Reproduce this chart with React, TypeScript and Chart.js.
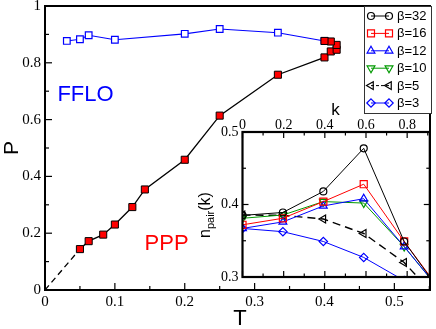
import React, { useEffect, useRef } from 'react';
import { Chart, registerables } from 'chart.js';
Chart.register(...registerables);

// ---------- main plot data ----------
const tExtrap = [0, 0.05];
const pExtrap = [0, 0.144];
const tFFLO = [0.03125, 0.05, 0.0625, 0.1, 0.2, 0.25, 0.3333, 0.4];
const pFFLO = [0.877, 0.883, 0.897, 0.881, 0.902, 0.919, 0.906, 0.877];
const tPPP = [0.05, 0.0625, 0.0833, 0.1, 0.125, 0.1429, 0.2, 0.25, 0.3333, 0.4, 0.409, 0.4174, 0.4174, 0.409, 0.4];
const pPPP = [0.144, 0.172, 0.195, 0.2305, 0.292, 0.354, 0.4586, 0.614, 0.758, 0.819, 0.84, 0.846, 0.863, 0.875, 0.877];
const tMajor = [0, 0.1, 0.2, 0.3, 0.4, 0.5];
const tMinor = [0.05, 0.15, 0.25, 0.35, 0.45, 0.55];
const pMajor = [0, 0.2, 0.4, 0.6, 0.8, 1];
const pMinor = [0.1, 0.3, 0.5, 0.7, 0.9];

// ---------- inset data ----------
const kVals = [0, 0.1963, 0.3927, 0.589, 0.7854, 0.9817];
const n32 = [0.385, 0.389, 0.418, 0.4775, 0.349, 0.272];
const n16 = [0.372, 0.381, 0.404, 0.428, 0.349, 0.274];
const n12 = [0.367, 0.376, 0.398, 0.408, 0.342, 0.274];
const n10 = [0.381, 0.3855, 0.404, 0.402, 0.342, 0.274];
const n5 = [0.3855, 0.385, 0.38, 0.36, 0.32, 0.26];
const n3 = [0.367, 0.3625, 0.349, 0.327, 0.295, 0.25];
const kMajor = [0, 0.2, 0.4, 0.6, 0.8];
const kMinor = [0.1, 0.3, 0.5, 0.7, 0.9];
const nMajor = [0.3, 0.4, 0.5];
const nMinor = [0.35, 0.45];

const betaLabels = ['β=32', 'β=16', 'β=12', 'β=10', 'β=5', 'β=3'];
const betaColors = ['#000000', '#ff0000', '#0000ff', '#009900', '#000000', '#0000ff'];
const betaMarkers = ['circle', 'rect', 'triangle', 'triangleDown', 'triangleLeft', 'diamond'];

const SERIF = "'Liberation Serif', 'Times New Roman', serif";
const SANS = "'Liberation Sans', Arial, sans-serif";

const zip = (xs: number[], ys: number[]) => xs.map((x, i) => ({ x, y: ys[i] }));

function drawMarker(ctx: CanvasRenderingContext2D, kind: string, x: number, y: number, color: string) {
  ctx.save();
  ctx.strokeStyle = color;
  ctx.lineWidth = 1.2;
  ctx.beginPath();
  if (kind === 'circle') {
    ctx.arc(x, y, 3.5, 0, Math.PI * 2);
  } else if (kind === 'rect') {
    ctx.rect(x - 3.5, y - 3.5, 7, 7);
  } else if (kind === 'diamond') {
    const r = 4.2;
    ctx.moveTo(x, y - r); ctx.lineTo(x + r, y); ctx.lineTo(x, y + r); ctx.lineTo(x - r, y); ctx.closePath();
  } else {
    const r = 4.5;
    let rot = 0;
    if (kind === 'triangleDown') rot = Math.PI;
    if (kind === 'triangleLeft') rot = -Math.PI / 2;
    for (let i = 0; i < 3; i++) {
      const a = rot + (i * 2 * Math.PI) / 3;
      const px = x + Math.sin(a) * r;
      const py = y - Math.cos(a) * r;
      if (i === 0) ctx.moveTo(px, py); else ctx.lineTo(px, py);
    }
    ctx.closePath();
  }
  ctx.stroke();
  ctx.restore();
}

function tick(ctx: CanvasRenderingContext2D, x1: number, y1: number, x2: number, y2: number) {
  ctx.beginPath();
  ctx.moveTo(x1, y1);
  ctx.lineTo(x2, y2);
  ctx.stroke();
}

const mainPlugin = {
  id: 'mainDeco',
  afterDraw(chart: any) {
    const { ctx, chartArea: a } = chart;
    const xs = chart.scales.x;
    const ys = chart.scales.y;
    ctx.save();
    ctx.strokeStyle = '#000';
    ctx.lineWidth = 1.2;
    pMajor.forEach((v) => { const py = ys.getPixelForValue(v); tick(ctx, a.left, py, a.left + 7, py); });
    pMinor.forEach((v) => { const py = ys.getPixelForValue(v); tick(ctx, a.left, py, a.left + 4, py); });
    tMajor.forEach((v) => { const px = xs.getPixelForValue(v); tick(ctx, px, a.bottom, px, a.bottom - 7); });
    tMinor.forEach((v) => { const px = xs.getPixelForValue(v); tick(ctx, px, a.bottom, px, a.bottom - 4); });
    ctx.lineWidth = 2;
    ctx.strokeRect(a.left, a.top, a.right - a.left, a.bottom - a.top);

    // region labels
    ctx.textAlign = 'center';
    ctx.textBaseline = 'middle';
    ctx.font = `22px ${SANS}`;
    ctx.fillStyle = '#0000ff';
    ctx.fillText('FFLO', xs.getPixelForValue(0.058), ys.getPixelForValue(0.688));
    ctx.fillStyle = '#ff0000';
    ctx.fillText('PPP', xs.getPixelForValue(0.174), ys.getPixelForValue(0.161));

    // axis titles
    ctx.fillStyle = '#000';
    ctx.font = `22px ${SANS}`;
    ctx.textBaseline = 'alphabetic';
    ctx.fillText('T', 240, 325);
    ctx.save();
    ctx.translate(18, 148);
    ctx.rotate(-Math.PI / 2);
    ctx.font = `21px ${SANS}`;
    ctx.fillText('P', 0, 0);
    ctx.restore();

    // legend
    const bx = 364, by = 6, bw = 67, bh = 107;
    ctx.fillStyle = '#fff';
    ctx.fillRect(bx, by, bw, bh);
    ctx.strokeStyle = '#333';
    ctx.lineWidth = 1;
    ctx.strokeRect(bx + 0.5, by + 0.5, bw, bh);
    ctx.font = `13px ${SANS}`;
    ctx.textAlign = 'left';
    ctx.textBaseline = 'middle';
    betaLabels.forEach((lab, i) => {
      const cy = by + 10 + i * 17.4;
      const col = betaColors[i];
      ctx.strokeStyle = col;
      ctx.lineWidth = 1;
      ctx.setLineDash(i === 4 ? [3, 2] : []);
      tick(ctx, bx + 7, cy, bx + 25, cy);
      ctx.setLineDash([]);
      drawMarker(ctx, betaMarkers[i], bx + 7, cy, col);
      drawMarker(ctx, betaMarkers[i], bx + 25, cy, col);
      ctx.fillStyle = '#000';
      ctx.fillText(lab, bx + 33, cy + 0.5);
    });
    ctx.restore();
  },
};

const insetPlugin = {
  id: 'insetDeco',
  beforeDraw(chart: any) {
    const { ctx, chartArea: a } = chart;
    ctx.save();
    ctx.fillStyle = '#fff';
    ctx.fillRect(a.left, a.top, a.right - a.left, a.bottom - a.top);
    ctx.restore();
  },
  afterDraw(chart: any) {
    const { ctx, chartArea: a } = chart;
    const xs = chart.scales.x;
    const ys = chart.scales.y;
    ctx.save();
    ctx.strokeStyle = '#000';
    ctx.lineWidth = 1.2;
    kMajor.forEach((v) => {
      const px = xs.getPixelForValue(v);
      tick(ctx, px, a.top, px, a.top + 6);
      tick(ctx, px, a.bottom, px, a.bottom - 6);
    });
    kMinor.forEach((v) => {
      const px = xs.getPixelForValue(v);
      if (px < a.right - 1) {
        tick(ctx, px, a.top, px, a.top + 3.5);
        tick(ctx, px, a.bottom, px, a.bottom - 3.5);
      }
    });
    nMajor.forEach((v) => {
      const py = ys.getPixelForValue(v);
      tick(ctx, a.left, py, a.left + 6, py);
      tick(ctx, a.right, py, a.right - 6, py);
    });
    nMinor.forEach((v) => {
      const py = ys.getPixelForValue(v);
      tick(ctx, a.left, py, a.left + 3.5, py);
      tick(ctx, a.right, py, a.right - 3.5, py);
    });
    ctx.lineWidth = 2.2;
    ctx.strokeRect(a.left, a.top, a.right - a.left, a.bottom - a.top);

    // k label
    ctx.fillStyle = '#000';
    ctx.textAlign = 'center';
    ctx.textBaseline = 'alphabetic';
    ctx.font = `17px ${SANS}`;
    ctx.fillText('k', 335.5 - 190, 115 - 95);

    // n_pair(k) label
    ctx.save();
    ctx.translate(210 - 190, 238 - 95);
    ctx.rotate(-Math.PI / 2);
    ctx.textAlign = 'left';
    ctx.font = `16px ${SANS}`;
    ctx.fillText('n', 0, 0);
    let off = ctx.measureText('n').width;
    ctx.font = `11px ${SANS}`;
    ctx.fillText('pair', off, 4);
    off += ctx.measureText('pair').width;
    ctx.font = `16px ${SANS}`;
    ctx.fillText('(k)', off, 0);
    ctx.restore();
    ctx.restore();
  },
};

function fixWidth(w: number) {
  return (scale: any) => {
    scale.width = w;
    scale.paddingTop = 0; scale.paddingBottom = 0; scale.paddingLeft = 0; scale.paddingRight = 0;
  };
}
function fixHeight(h: number) {
  return (scale: any) => {
    scale.height = h;
    scale.paddingTop = 0; scale.paddingBottom = 0; scale.paddingLeft = 0; scale.paddingRight = 0;
  };
}
function setTicks(vals: number[]) {
  return (scale: any) => { scale.ticks = vals.map((v) => ({ value: v })); };
}

export default function App() {
  const mainRef = useRef<HTMLCanvasElement>(null);
  const insetRef = useRef<HTMLCanvasElement>(null);

  useEffect(() => {
    const mainChart = new Chart(mainRef.current as HTMLCanvasElement, {
      type: 'scatter',
      data: {
        datasets: [
          {
            data: zip(tPPP, pPPP),
            showLine: true,
            borderColor: '#000',
            borderWidth: 1.3,
            pointStyle: 'rect',
            pointRadius: 5,
            pointBackgroundColor: '#ff0000',
            pointBorderColor: '#000',
            pointBorderWidth: 1,
          },
          {
            data: zip(tFFLO, pFFLO),
            showLine: true,
            borderColor: '#0000ff',
            borderWidth: 1.1,
            pointStyle: 'rect',
            pointRadius: 4.7,
            pointBackgroundColor: '#fff',
            pointBorderColor: '#0000ff',
            pointBorderWidth: 1.2,
          },
          {
            data: zip(tExtrap, pExtrap),
            showLine: true,
            borderColor: '#000',
            borderWidth: 1.3,
            borderDash: [6, 4],
            pointRadius: 0,
          },
        ],
      } as any,
      options: {
        animation: false,
        responsive: false,
        events: [],
        layout: { padding: { top: 5, right: 3, left: 0, bottom: 0 } },
        plugins: { legend: { display: false }, tooltip: { enabled: false } },
        scales: {
          x: {
            type: 'linear',
            min: 0,
            max: 0.551,
            afterBuildTicks: setTicks(tMajor),
            afterFit: fixHeight(39),
            grid: { display: false, drawTicks: false },
            border: { display: false },
            ticks: { color: '#000', padding: 3, font: { family: SERIF, size: 15 }, callback: (v: any) => String(v), maxRotation: 0, autoSkip: false },
          },
          y: {
            type: 'linear',
            min: 0,
            max: 1,
            afterBuildTicks: setTicks(pMajor),
            afterFit: fixWidth(45),
            grid: { display: false, drawTicks: false },
            border: { display: false },
            ticks: { color: '#000', padding: 4, font: { family: SERIF, size: 15 }, callback: (v: any) => String(v), autoSkip: false },
          },
        },
      } as any,
      plugins: [mainPlugin],
    });

    const series = [n32, n16, n12, n10, n5, n3];
    const styles: any[] = [
      { pointStyle: 'circle', pointRadius: 3.5 },
      { pointStyle: 'rect', pointRadius: 5 },
      { pointStyle: 'triangle', pointRadius: 4.5 },
      { pointStyle: 'triangle', pointRadius: 4.5, pointRotation: 180 },
      { pointStyle: 'triangle', pointRadius: 4.5, pointRotation: -90 },
      { pointStyle: 'rectRot', pointRadius: 4.2 },
    ];
    const insetChart = new Chart(insetRef.current as HTMLCanvasElement, {
      type: 'scatter',
      data: {
        datasets: series.map((s, i) => ({
          data: zip(kVals, s),
          showLine: true,
          borderColor: betaColors[i],
          borderWidth: i === 4 ? 1.4 : 1,
          borderDash: i === 4 ? [8, 5] : [],
          pointBackgroundColor: 'rgba(0,0,0,0)',
          pointBorderColor: betaColors[i],
          pointBorderWidth: 1.2,
          ...styles[i],
        })),
      } as any,
      options: {
        animation: false,
        responsive: false,
        events: [],
        layout: { padding: { top: 0, right: 6, left: 0, bottom: 18 } },
        plugins: { legend: { display: false }, tooltip: { enabled: false } },
        scales: {
          x: {
            type: 'linear',
            position: 'top',
            min: 0,
            max: 0.91,
            afterBuildTicks: setTicks(kMajor),
            afterFit: fixHeight(37),
            grid: { display: false, drawTicks: false },
            border: { display: false },
            ticks: { color: '#000', padding: -2, font: { family: SERIF, size: 14 }, callback: (v: any) => String(v), maxRotation: 0, autoSkip: false },
          },
          y: {
            type: 'linear',
            min: 0.3,
            max: 0.5,
            afterBuildTicks: setTicks(nMajor),
            afterFit: fixWidth(52.5),
            grid: { display: false, drawTicks: false },
            border: { display: false },
            ticks: { color: '#000', padding: 4, font: { family: SERIF, size: 14 }, callback: (v: any) => String(v), autoSkip: false },
          },
        },
      } as any,
      plugins: [insetPlugin],
    });

    return () => {
      mainChart.destroy();
      insetChart.destroy();
    };
  }, []);

  return (
    <div style={{ position: 'absolute', left: 0, top: 0, width: 436, height: 329, background: '#fff' }}>
      <canvas ref={mainRef} width={436} height={329} style={{ position: 'absolute', left: 0, top: 0 }} />
      <canvas ref={insetRef} width={246} height={200} style={{ position: 'absolute', left: 190, top: 95 }} />
    </div>
  );
}
